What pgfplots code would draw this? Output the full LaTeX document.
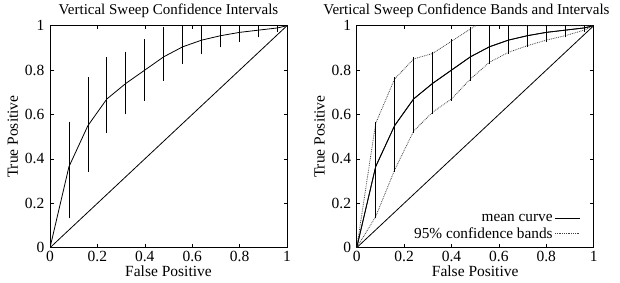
\documentclass[border=0pt]{standalone}
\usepackage{fontspec}
\setmainfont{Liberation Serif}
\usepackage{pgfplots}
\usepackage{pgfplotstable}
\pgfplotsset{compat=1.18}
\usetikzlibrary{calc}
\newcommand\tlf[1]{{\fontsize{15.5}{17}\selectfont #1}}

\pgfplotstableread{
x y lo hi
0.08 0.365 0.14 0.56
0.16 0.55 0.35 0.76
0.24 0.67 0.525 0.85
0.32 0.74 0.61 0.875
0.40 0.80 0.67 0.93
0.48 0.86 0.76 0.985
0.56 0.905 0.835 1.04
0.64 0.935 0.88 1.0
0.72 0.955 0.91 1.0
0.80 0.97 0.935 1.0
0.88 0.98 0.955 1.0
0.96 0.99 0.98 1.0
}\errdata

\pgfplotstableread{
x y lo hi
0 0 0 0
0.08 0.365 0.14 0.56
0.16 0.55 0.35 0.76
0.24 0.67 0.525 0.85
0.32 0.74 0.61 0.875
0.40 0.80 0.67 0.93
0.48 0.86 0.76 0.985
0.56 0.905 0.835 1.04
0.64 0.935 0.88 1.0
0.72 0.955 0.91 1.0
0.80 0.97 0.935 1.0
0.88 0.98 0.955 1.0
0.96 0.99 0.98 1.0
1 1 1 1
}\curvedata

\pgfplotsset{
  rocaxis/.style={
    scale only axis,
    width=237pt, height=222pt,
    xmin=0, xmax=1, ymin=0, ymax=1,
    xtick={0,0.2,0.4,0.6,0.8,1},
    ytick={0,0.2,0.4,0.6,0.8,1},
    xticklabels={\tlf{0},\tlf{0.2},\tlf{0.4},\tlf{0.6},\tlf{0.8},\tlf{1}},
    yticklabels={\tlf{0},\tlf{0.2},\tlf{0.4},\tlf{0.6},\tlf{0.8},\tlf{1}},
    tick align=inside,
    major tick length=3.5pt,
    tick style={black, line width=0.6pt},
    axis line style={black, line width=0.9pt},
    yticklabel style={inner sep=0pt, xshift=-5.5pt},
    xticklabel style={inner sep=0pt, yshift=-3.5pt},
    xlabel={False Positive},
    ylabel={True Positive},
    label style={font=\fontsize{15.5}{17}\selectfont},
    xlabel style={at={(rel axis cs:0.5,0)}, anchor=base, yshift=-29pt},
    ylabel style={at={($(rel axis cs:0,0.5)+(-32pt,0pt)$)}, anchor=base},
    title style={font=\fontsize{15}{17}\selectfont, anchor=base, yshift=5.5pt},
    no markers,
  }
}

\begin{document}
\begin{tikzpicture}[font=\fontsize{15}{17}\selectfont]
\useasboundingbox (0,0) rectangle (620pt,282pt);

\begin{axis}[rocaxis, at={(50pt,34.3pt)}, anchor=south west,
  title={Vertical Sweep Confidence Intervals},
  title style={at={(rel axis cs:0.5,1)}}]
\addplot[black, line width=0.8pt] coordinates {(0,0) (1,1)};
\addplot[draw=none, mark=none,
  error bars/.cd, y dir=both, y explicit,
  error bar style={black, solid, line width=0.8pt},
  error mark options={black, solid, mark size=1.8pt, line width=0.8pt}]
  table[x=x, y=y, y error plus expr=\thisrow{hi}-\thisrow{y}, y error minus expr=\thisrow{y}-\thisrow{lo}] {\errdata};
\addplot[black, line width=0.8pt] table[x=x, y=y] {\curvedata};
\end{axis}

\begin{axis}[rocaxis, at={(356.7pt,34.3pt)}, anchor=south west,
  title={Vertical Sweep Confidence Bands and Intervals},
  title style={at={(rel axis cs:0.463,1)}},
  legend style={at={(rel axis cs:0.945,0.025)}, anchor=south east, draw=none, fill=none,
    font=\fontsize{15.3}{17}\selectfont, row sep=0.5pt, inner sep=0pt},
  legend plot pos=right, legend cell align=right,
  legend image code/.code={\draw[#1] (0pt,0pt) -- (25pt,0pt);}]
\addplot[black, line width=0.8pt, forget plot] coordinates {(0,0) (1,1)};
\addplot[black, line width=0.8pt] table[x=x, y=y] {\curvedata};
\addlegendentry{mean curve}
\addplot[black!75, densely dotted, line width=0.8pt] table[x=x, y=hi] {\curvedata};
\addlegendentry{95\% confidence bands}
\addplot[black!75, densely dotted, line width=0.8pt, forget plot] table[x=x, y=lo] {\curvedata};
\addplot[draw=none, mark=none, forget plot,
  error bars/.cd, y dir=both, y explicit,
  error bar style={black, solid, line width=0.8pt},
  error mark options={black, solid, mark size=1.8pt, line width=0.8pt}]
  table[x=x, y=y, y error plus expr=\thisrow{hi}-\thisrow{y}, y error minus expr=\thisrow{y}-\thisrow{lo}] {\errdata};
\addplot[black, line width=0.8pt, forget plot] table[x=x, y=y] {\curvedata};
\end{axis}
\end{tikzpicture}
\end{document}
